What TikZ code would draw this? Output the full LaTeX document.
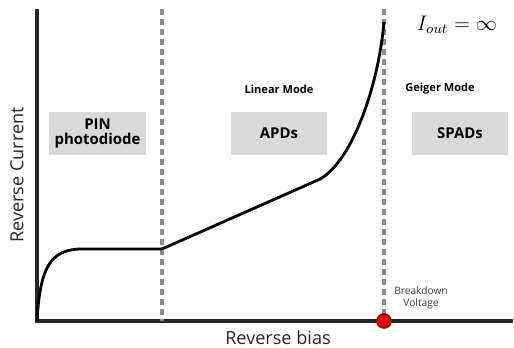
\documentclass[tikz,border=0pt]{standalone}
\usepackage{fontspec}
\setmainfont{Open Sans}
\usetikzlibrary{positioning}

\begin{document}
\begin{tikzpicture}[
        x=0.02cm, y=-0.02cm,
        axis/.style={line width=2.1pt, draw=black!85},
        divider/.style={line width=2.4pt, draw=black!45, dash pattern=on 3.4pt off 2.3pt},
        modebox/.style={fill=black!15, minimum width=1.92cm, minimum height=0.86cm, align=center, font=\bfseries\fontsize{8.5}{9.5}\selectfont},
        modelabel/.style={font=\bfseries\fontsize{6.3}{7.5}\selectfont},
        curve/.style={line width=1.6pt, draw=black}
    ]
        \useasboundingbox (0,0) rectangle (514,348);

        % --- AXES ---
        \coordinate (origin) at (37,321);
        \coordinate (ytop) at (37,9);
        \coordinate (xend) at (513,321);
        \draw[axis] (ytop) -- (origin) -- (xend);

        % --- DIVIDERS ---
        \coordinate (d1top) at (162,9);
        \coordinate (d1bot) at (162,321);
        \coordinate (d2top) at (384,9);
        \coordinate (d2bot) at (384,321);
        \draw[divider] (d1top) -- (d1bot);
        \draw[divider] (d2top) -- (d2bot);

        % --- I-V CURVE ---
        \draw[curve] (origin) .. controls (40,268) and (50,249) .. (82,249)
            -- (162,249) -- (318,180)
            .. controls (350,165) and (378,90) .. (384,22);

        % --- REGIONS ---
        \node[modebox] (pin) at (97.5,133.5) {PIN\\[-1pt]photodiode};
        \node[modebox] (apd) at (279,133.5) {APDs};
        \node[modebox] (spad) at (460,133.5) {SPADs};
        \node[modelabel] (linear) at (279,89) {Linear Mode};
        \node[modelabel] (geiger) at (440,89) {Geiger Mode};

        % --- BREAKDOWN ---
        \node[circle, fill=red!90!black, draw=red!50!black, line width=0.6pt, minimum size=0.29cm, inner sep=0pt] (vbr) at (d2bot) {};
        \node[align=center, font=\fontsize{5.8}{7}\selectfont, text=black!75] (vbrlabel) at (421,298) {Breakdown\\Voltage};

        % --- LABELS ---
        \node[font=\fontsize{11.5}{13}\selectfont] (iout) at (457,25) {$I_{out} = \infty$};
        \node[rotate=90, font=\fontsize{10.3}{12}\selectfont, text=black!85] (ylabel) at (17,175) {Reverse Current};
        \node[font=\fontsize{10.3}{12}\selectfont, text=black!85] (xlabel) at (278,338) {Reverse bias};
    \end{tikzpicture}
\end{document}
